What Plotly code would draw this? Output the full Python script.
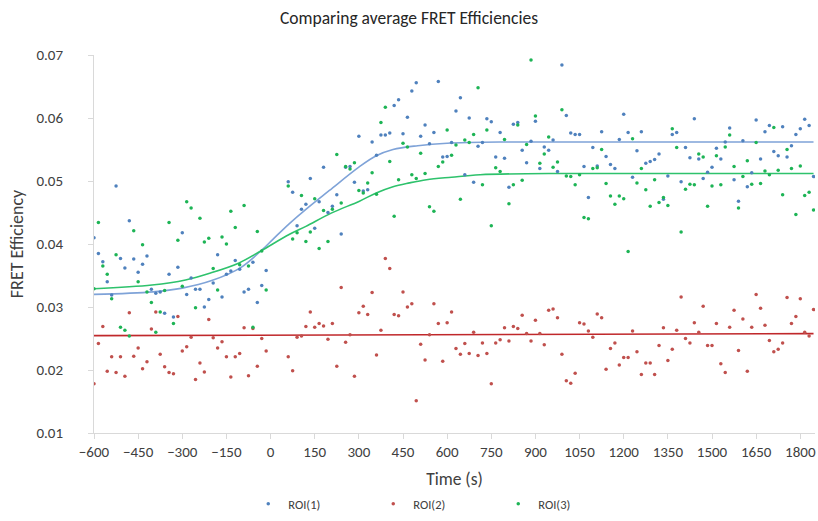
import plotly.graph_objects as go

# Time points (s) - no frames recorded between 0 and 45 s
time_s = [
    -600, -585, -570, -555, -540, -525, -510, -495, -480, -465,
    -450, -435, -420, -405, -390, -375, -360, -345, -330, -315,
    -300, -285, -270, -255, -240, -225, -210, -195, -180, -165,
    -150, -135, -120, -105, -90, -75, -60, -45, -30, -15,
    60, 75, 90, 105, 120, 135, 150, 165, 180, 195,
    210, 225, 240, 255, 270, 285, 300, 315, 330, 345,
    360, 375, 390, 405, 420, 435, 450, 465, 480, 495,
    510, 525, 540, 555, 570, 585, 600, 615, 630, 645,
    660, 675, 690, 705, 720, 735, 750, 765, 780, 795,
    810, 825, 840, 855, 870, 885, 900, 915, 930, 945,
    960, 975, 990, 1005, 1020, 1035, 1050, 1065, 1080, 1095,
    1110, 1125, 1140, 1155, 1170, 1185, 1200, 1215, 1230, 1245,
    1260, 1275, 1290, 1305, 1320, 1335, 1350, 1365, 1380, 1395,
    1410, 1425, 1440, 1455, 1470, 1485, 1500, 1515, 1530, 1545,
    1560, 1575, 1590, 1605, 1620, 1635, 1650, 1665, 1680, 1695,
    1710, 1725, 1740, 1755, 1770, 1785, 1800, 1815, 1830, 1845,
]

roi1 = [
    0.0410, 0.0385, 0.0372, 0.0340, 0.0319, 0.0492, 0.0377, 0.0362, 0.0437, 0.0376,
    0.0355, 0.0368, 0.0381, 0.0328, 0.0322, 0.0324, 0.0290, 0.0352, 0.0284, 0.0363,
    0.0418, 0.0320, 0.0346, 0.0328, 0.0328, 0.0300, 0.0312, 0.0338, 0.0383, 0.0316,
    0.0352, 0.0357, 0.0374, 0.0360, 0.0324, 0.0328, 0.0371, 0.0307, 0.0334, 0.0358,
    0.0499, 0.0482, 0.0429, 0.0455, 0.0463, 0.0504, 0.0425, 0.0467, 0.0522, 0.0450,
    0.0460, 0.0478, 0.0416, 0.0522, 0.0523, 0.0498, 0.0571, 0.0484, 0.0486, 0.0562,
    0.0541, 0.0573, 0.0573, 0.0576, 0.0620, 0.0629, 0.0575, 0.0601, 0.0643, 0.0656,
    0.0571, 0.0589, 0.0559, 0.0577, 0.0658, 0.0538, 0.0539, 0.0561, 0.0611, 0.0632,
    0.0510, 0.0600, 0.0498, 0.0555, 0.0561, 0.0599, 0.0594, 0.0538, 0.0577, 0.0536,
    0.0490, 0.0590, 0.0593, 0.0549, 0.0529, 0.0563, 0.0595, 0.0520, 0.0554, 0.0549,
    0.0565, 0.0515, 0.0684, 0.0604, 0.0576, 0.0574, 0.0574, 0.0523, 0.0474, 0.0553,
    0.0524, 0.0578, 0.0539, 0.0526, 0.0520, 0.0566, 0.0606, 0.0577, 0.0506, 0.0548,
    0.0578, 0.0528, 0.0531, 0.0534, 0.0543, 0.0471, 0.0508, 0.0574, 0.0577, 0.0499,
    0.0553, 0.0537, 0.0599, 0.0535, 0.0504, 0.0514, 0.0522, 0.0552, 0.0535, 0.0562,
    0.0584, 0.0502, 0.0468, 0.0564, 0.0491, 0.0513, 0.0597, 0.0535, 0.0578, 0.0588,
    0.0547, 0.0540, 0.0586, 0.0538, 0.0556, 0.0574, 0.0583, 0.0598, 0.0588, 0.0507,
]

roi2 = [
    0.0178, 0.0242, 0.0269, 0.0198, 0.0221, 0.0196, 0.0221, 0.0190, 0.0291, 0.0222,
    0.0235, 0.0202, 0.0213, 0.0265, 0.0292, 0.0225, 0.0205, 0.0196, 0.0194, 0.0285,
    0.0230, 0.0237, 0.0252, 0.0185, 0.0211, 0.0197, 0.0280, 0.0251, 0.0235, 0.0245,
    0.0221, 0.0189, 0.0221, 0.0226, 0.0267, 0.0191, 0.0266, 0.0206, 0.0250, 0.0230,
    0.0221, 0.0199, 0.0252, 0.0254, 0.0269, 0.0292, 0.0268, 0.0274, 0.0270, 0.0249,
    0.0274, 0.0206, 0.0331, 0.0244, 0.0256, 0.0190, 0.0291, 0.0301, 0.0288, 0.0323,
    0.0224, 0.0263, 0.0377, 0.0361, 0.0288, 0.0286, 0.0324, 0.0300, 0.0305, 0.0151,
    0.0241, 0.0216, 0.0256, 0.0305, 0.0274, 0.0214, 0.0275, 0.0292, 0.0234, 0.0225,
    0.0242, 0.0226, 0.0260, 0.0223, 0.0243, 0.0226, 0.0178, 0.0243, 0.0248, 0.0267,
    0.0246, 0.0269, 0.0266, 0.0287, 0.0258, 0.0246, 0.0279, 0.0258, 0.0240, 0.0295,
    0.0297, 0.0283, 0.0225, 0.0183, 0.0179, 0.0195, 0.0275, 0.0273, 0.0262, 0.0252,
    0.0289, 0.0283, 0.0201, 0.0234, 0.0243, 0.0208, 0.0220, 0.0220, 0.0262, 0.0229,
    0.0193, 0.0211, 0.0211, 0.0193, 0.0239, 0.0267, 0.0215, 0.0233, 0.0263, 0.0316,
    0.0250, 0.0243, 0.0275, 0.0260, 0.0301, 0.0239, 0.0239, 0.0274, 0.0210, 0.0196,
    0.0268, 0.0295, 0.0231, 0.0281, 0.0198, 0.0268, 0.0320, 0.0298, 0.0271, 0.0247,
    0.0229, 0.0233, 0.0243, 0.0315, 0.0274, 0.0285, 0.0313, 0.0260, 0.0254, 0.0296,
]

roi3 = [
    0.0329, 0.0434, 0.0365, 0.0352, 0.0313, 0.0383, 0.0268, 0.0263, 0.0254, 0.0421,
    0.0340, 0.0399, 0.0324, 0.0307, 0.0260, 0.0292, 0.0326, 0.0434, 0.0274, 0.0406,
    0.0333, 0.0467, 0.0457, 0.0299, 0.0441, 0.0403, 0.0409, 0.0361, 0.0327, 0.0411,
    0.0400, 0.0452, 0.0426, 0.0367, 0.0461, 0.0365, 0.0268, 0.0420, 0.0389, 0.0327,
    0.0492, 0.0408, 0.0418, 0.0477, 0.0404, 0.0419, 0.0472, 0.0393, 0.0453, 0.0404,
    0.0455, 0.0542, 0.0465, 0.0523, 0.0519, 0.0529, 0.0485, 0.0481, 0.0497, 0.0513,
    0.0479, 0.0593, 0.0617, 0.0531, 0.0444, 0.0502, 0.0560, 0.0554, 0.0510, 0.0504,
    0.0544, 0.0512, 0.0459, 0.0452, 0.0523, 0.0530, 0.0581, 0.0541, 0.0557, 0.0471,
    0.0565, 0.0561, 0.0574, 0.0648, 0.0494, 0.0581, 0.0429, 0.0521, 0.0515, 0.0566,
    0.0464, 0.0494, 0.0589, 0.0501, 0.0558, 0.0692, 0.0603, 0.0528, 0.0543, 0.0570,
    0.0522, 0.0530, 0.0613, 0.0508, 0.0507, 0.0494, 0.0510, 0.0442, 0.0440, 0.0520,
    0.0521, 0.0550, 0.0496, 0.0476, 0.0463, 0.0476, 0.0472, 0.0388, 0.0567, 0.0497,
    0.0520, 0.0486, 0.0460, 0.0502, 0.0466, 0.0474, 0.0461, 0.0583, 0.0553, 0.0419,
    0.0487, 0.0495, 0.0494, 0.0543, 0.0538, 0.0460, 0.0492, 0.0540, 0.0494, 0.0554,
    0.0573, 0.0523, 0.0457, 0.0507, 0.0532, 0.0495, 0.0561, 0.0496, 0.0516, 0.0510,
    0.0585, 0.0517, 0.0478, 0.0550, 0.0520, 0.0447, 0.0524, 0.0477, 0.0482, 0.0454,
]

# Fitted curves at a few times
fit1_t = [-600, -400, -300, -200, -100, -33, 7, 63, 120, 200, 300, 359, 416, 500, 600, 800, 1845]
fit1_v = [0.0320, 0.0324, 0.0330, 0.0342, 0.0363, 0.0389, 0.0407, 0.0432, 0.0455, 0.0485,
          0.0522, 0.0540, 0.0550, 0.0556, 0.0560, 0.0562, 0.0562]
fit2_t = [-600, 1845]
fit2_v = [0.02545, 0.02577]
fit3_t = [-600, -403, -289, -204, -107, -33, 63, 120, 206, 302, 359, 416, 472, 530, 615, 712, 1025, 1845]
fit3_v = [0.0329, 0.0335, 0.0343, 0.0354, 0.0370, 0.0389, 0.0415, 0.0428, 0.0449, 0.0468,
          0.0481, 0.0491, 0.0497, 0.0502, 0.0506, 0.0510, 0.0512, 0.0512]

font_family = "Carlito, Calibri, Lato, sans-serif"

fig = go.Figure()

# fit lines first so the dots sit on top
fig.add_trace(go.Scatter(x=fit2_t, y=fit2_v, mode="lines", line=dict(color="#C0282B", width=1.6),
                         showlegend=False, hoverinfo="skip"))
fig.add_trace(go.Scatter(x=fit1_t, y=fit1_v, mode="lines", line=dict(color="#7FA3D8", width=1.6, shape="spline"),
                         showlegend=False, hoverinfo="skip"))
fig.add_trace(go.Scatter(x=fit3_t, y=fit3_v, mode="lines", line=dict(color="#2EC26C", width=1.6, shape="spline"),
                         showlegend=False, hoverinfo="skip"))

fig.add_trace(go.Scatter(x=time_s, y=roi1, mode="markers", name="ROI(1)",
                         marker=dict(color="#4F81BD", size=3.5)))
fig.add_trace(go.Scatter(x=time_s, y=roi2, mode="markers", name="ROI(2)",
                         marker=dict(color="#C0504D", size=3.5)))
fig.add_trace(go.Scatter(x=time_s, y=roi3, mode="markers", name="ROI(3)",
                         marker=dict(color="#1DB455", size=3.5)))

fig.update_layout(
    width=818, height=521,
    margin=dict(l=94, r=3, t=55, b=87),
    paper_bgcolor="white", plot_bgcolor="white",
    font=dict(family=font_family, size=15, color="#404040"),
    title=dict(text="Comparing average FRET Efficiencies", x=0.5, xanchor="center",
               y=0.965, yanchor="middle", font=dict(size=17.5, color="#262626")),
    legend=dict(orientation="h", x=0.474, xanchor="center", y=-0.185, yanchor="middle",
                font=dict(size=12.5), entrywidth=80, itemsizing="trace"),
)
fig.update_xaxes(
    range=[-600, 1850], tick0=-600, dtick=150,
    showline=True, linecolor="#D9D9D9", linewidth=1,
    ticks="outside", ticklen=5, tickcolor="#D9D9D9",
    showgrid=False, zeroline=False, automargin=False,
    title=dict(text="Time (s)", standoff=12, font=dict(size=17.5)),
)
fig.update_yaxes(
    range=[0.01, 0.07], dtick=0.01, tickformat=".2f",
    showline=True, linecolor="#D9D9D9", linewidth=1,
    ticks="outside", ticklen=5, tickcolor="#D9D9D9", ticklabelstandoff=22,
    showgrid=False, zeroline=False, automargin=False,
    title=dict(text="FRET Efficiency", standoff=8, font=dict(size=18)),
)

# drop the default 8px body margin so the chart fills the window exactly
fig.write_html("out.html", config={"displayModeBar": False},
               post_script="document.body.style.margin='0';")
